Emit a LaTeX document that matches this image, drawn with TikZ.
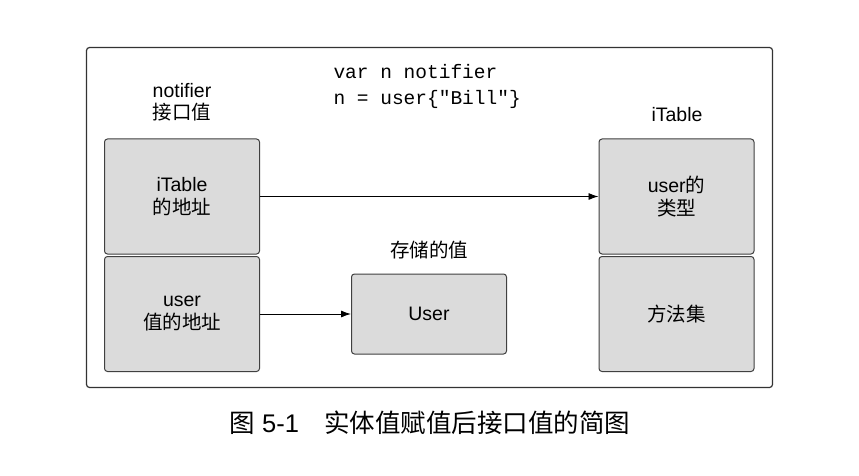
\documentclass[tikz,border=0pt]{standalone}
\usepackage{fontspec}
\setmainfont{Liberation Sans}
\newfontfamily\cjk{Noto Sans CJK SC}
\newfontfamily\codefont{Liberation Mono}
\usetikzlibrary{arrows.meta}
\tikzset{
  cell/.style={draw=black!75, fill=black!14, rounded corners=3pt, line width=1pt,
    minimum width=155pt, minimum height=115pt, align=center,
    font=\fontsize{19.5}{23}\selectfont},
  lbl/.style={align=center, font=\fontsize{19.5}{22}\selectfont},
  ptr/.style={-{Latex[length=10pt,width=7pt]}, line width=0.9pt}
}

\begin{document}
\begin{tikzpicture}[x=1pt, y=-1pt]
  \useasboundingbox[fill=white] (0,0) rectangle (859,476);
  % outer frame
  \node[draw=black!80, line width=1.2pt, rounded corners=3pt,
        minimum width=686pt, minimum height=340pt] (frame) at (429.5,217.5) {};
  % code
  \node[anchor=west, align=left, font=\codefont\fontsize{19.5}{26}\selectfont] (code) at (330,86)
    {var n notifier\\n = user\{"Bill"\}};
  % interface value
  \node[lbl] (iface) at (182,102) {notifier\\\cjk 接口值};
  \node[cell] (ltop) at (182,196.5) {iTable\\\cjk 的地址};
  \node[cell] (lbot) at (182,314) {user\\\cjk 值的地址};
  % stored value
  \node[lbl] (stored) at (429,250) {\cjk 存储的值};
  \node[cell, minimum height=80pt] (user) at (429,314) {User};
  % itable
  \node[lbl] (itab) at (677,115) {iTable};
  \node[cell] (rtop) at (676.5,196.5) {user{\cjk 的}\\\cjk 类型};
  \node[cell] (rbot) at (676.5,314) {\cjk 方法集};
  % pointers
  \draw[ptr] (ltop) -- (rtop);
  \draw[ptr] (lbot) -- (user);
  % caption
  \node[font=\fontsize{25.5}{30}\selectfont] (caption) at (430,423)
    {{\cjk 图} 5-1\hspace{1em}{\cjk 实体值赋值后接口值的简图}};
\end{tikzpicture}
\end{document}
